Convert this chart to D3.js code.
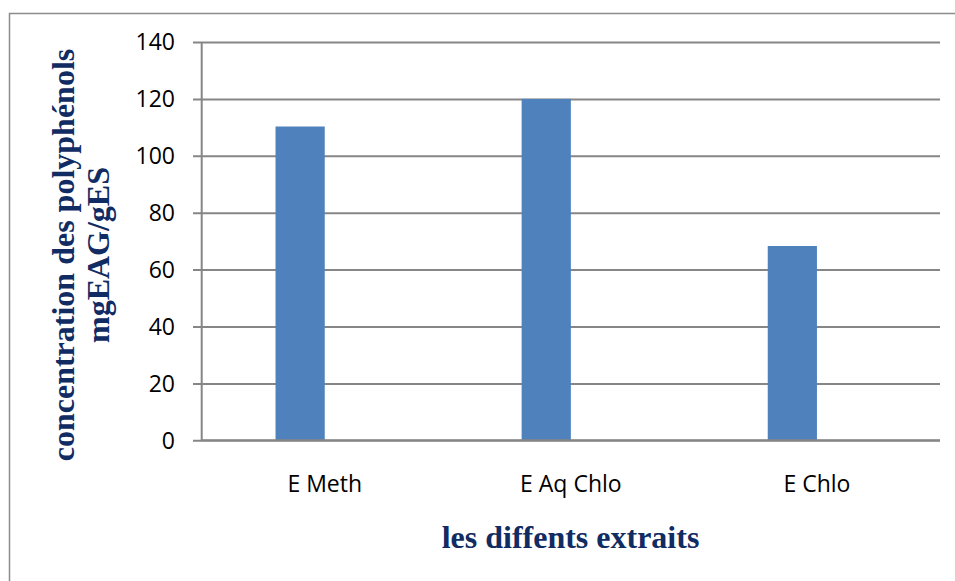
<!DOCTYPE html>
<html>
<head>
<meta charset="utf-8">
<script src="https://cdn.jsdelivr.net/npm/d3@7"></script>
<style>
  html, body { margin: 0; padding: 0; background: #fff; overflow: hidden; }
  svg { display: block; }
</style>
</head>
<body>
<svg id="chart" width="955" height="581"></svg>
<script>
const categories = ["E Meth", "E Aq Chlo", "E Chlo"];
const values = [110.3, 120, 68.3];
const yTicks = [0, 20, 40, 60, 80, 100, 120, 140];
const yTitleLines = ["concentration des polyphénols", "mgEAG/gES"];
const xTitle = "les diffents extraits";

(function () {
const svg = d3.select("#chart");
const gridColor = "#868686";
const titleColor = "#112b63";

// outer frame (only left and top edges visible in reference)
svg.append("path")
  .attr("d", "M9.5,581 L9.5,13.5 L955,13.5")
  .attr("fill", "none").attr("stroke", "#8c8c8c").attr("stroke-width", 1.5);

const pLeft = 201.7, pRight = 940, pTop = 42, pBottom = 440.3;

const y = d3.scaleLinear().domain([0, 140]).range([pBottom, pTop]);
const x = d3.scaleBand().domain(categories).range([pLeft, pRight]).paddingInner(0).paddingOuter(0);

// gridlines + ticks via axis
const yAxis = d3.axisLeft(y).tickValues(yTicks).tickSize(-(pRight - pLeft)).tickFormat("");
const gy = svg.append("g").attr("transform", `translate(${pLeft},0)`).call(yAxis);
gy.select(".domain").remove();
gy.selectAll(".tick line").attr("stroke", gridColor).attr("stroke-width", 2).attr("x1", -8.7);

// tick labels
svg.append("g").selectAll("text").data(yTicks).join("text")
  .attr("x", 175).attr("y", d => y(d)).attr("dy", "0.36em")
  .attr("text-anchor", "end")
  .attr("font-family", "'Open Sans', sans-serif").attr("font-size", 23)
  .attr("fill", "#000")
  .text(d => d);

// vertical axis line
svg.append("line")
  .attr("x1", pLeft).attr("x2", pLeft).attr("y1", y(140)).attr("y2", y(0))
  .attr("stroke", gridColor).attr("stroke-width", 2);

// bars
const bw = x.bandwidth();
svg.append("g").selectAll("rect").data(values).join("rect")
  .attr("x", (d, i) => x(categories[i]) + bw * 0.3)
  .attr("width", bw * 0.2)
  .attr("y", d => y(d))
  .attr("height", d => y(0) - y(d))
  .attr("fill", "#4F81BD");

// bottom axis line
svg.append("line")
  .attr("x1", pLeft).attr("x2", pRight).attr("y1", y(0)).attr("y2", y(0))
  .attr("stroke", gridColor).attr("stroke-width", 2);

// category labels
svg.append("g").selectAll("text").data(categories).join("text")
  .attr("x", d => x(d) + bw / 2).attr("y", 492)
  .attr("text-anchor", "middle")
  .attr("font-family", "'Open Sans', sans-serif").attr("font-size", 23)
  .attr("fill", "#000")
  .text(d => d);

// x title
svg.append("text")
  .attr("x", 570.5).attr("y", 548)
  .attr("text-anchor", "middle")
  .attr("font-family", "'Liberation Serif', 'Times New Roman', serif")
  .attr("font-weight", "bold").attr("font-size", 32)
  .attr("fill", titleColor)
  .text(xTitle);

// y title (two lines, rotated)
const yt = svg.append("text")
  .attr("transform", "rotate(-90)")
  .attr("text-anchor", "middle")
  .attr("font-family", "'Liberation Serif', 'Times New Roman', serif")
  .attr("font-weight", "bold").attr("font-size", 32)
  .attr("fill", titleColor);
yt.selectAll("tspan").data(yTitleLines).join("tspan")
  .attr("x", -255)
  .attr("y", (d, i) => 74 + i * 35)
  .text(d => d);
})();
</script>
</body>
</html>
